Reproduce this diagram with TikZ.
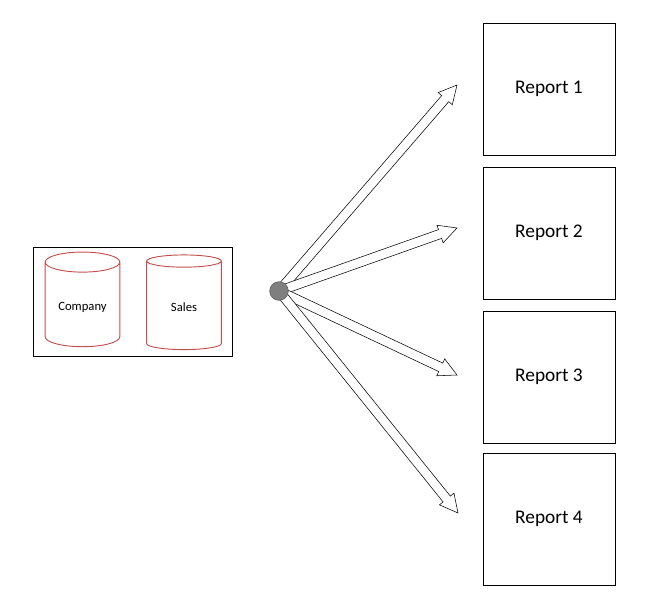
\documentclass[tikz,border=0pt]{standalone}
\usepackage{fontspec}
\setmainfont{Carlito}
\usetikzlibrary{calc,positioning,shapes.geometric}
\definecolor{dbred}{HTML}{C0504D}
\definecolor{hubgray}{HTML}{7F7F7F}
\newcommand{\blockarrow}[2]{%
  \draw[fill=white, line width=0.4pt]
    ($(#1)!3.5pt!90:(#2)$) -- ($($(#2)!13.5pt!(#1)$)!3.5pt!-90:(#1)$)
    -- ($($(#2)!13.5pt!(#1)$)!7pt!-90:(#1)$) -- (#2)
    -- ($($(#2)!13.5pt!(#1)$)!7pt!90:(#1)$)
    -- ($($(#2)!13.5pt!(#1)$)!3.5pt!90:(#1)$)
    -- ($(#1)!3.5pt!-90:(#2)$) -- cycle;}
\begin{document}
\begin{tikzpicture}[x=0.75pt, y=-0.75pt,
    report/.style={draw, line width=0.4pt, minimum width=99pt, minimum height=99pt, font=\fontsize{14.5}{16}\selectfont},
    db/.style={cylinder, shape border rotate=90, draw=dbred, line width=0.7pt, aspect=0.35, minimum width=56pt, minimum height=71pt, font=\fontsize{9.5}{11}\selectfont}]
    \useasboundingbox (0,0) rectangle (646,608);

    % sources
    \draw[line width=0.4pt] (33,247) rectangle (232,356);
    \node[db] (company) at (82.5,307) {Company};
    \node[db] (sales) at (184,307) {Sales};

    % reports
    \node[report] (r1) at (549,89) {Report 1};
    \node[report] (r2) at (549,233) {Report 2};
    \node[report] (r3) at (549,377) {Report 3};
    \node[report] (r4) at (549,519) {Report 4};

    % arrows from the hub
    \coordinate (hub) at (279,291);
    \coordinate (t1) at (457,85);
    \coordinate (t2) at (457,228);
    \coordinate (t3) at (457,375);
    \coordinate (t4) at (458,513);
    \foreach \t in {t1,t2,t3,t4}
        \blockarrow{hub}{\t};
    \node[circle, fill=hubgray, draw=hubgray!70!black, minimum size=14pt, inner sep=0pt] (hubdot) at (hub) {};
\end{tikzpicture}
\end{document}
